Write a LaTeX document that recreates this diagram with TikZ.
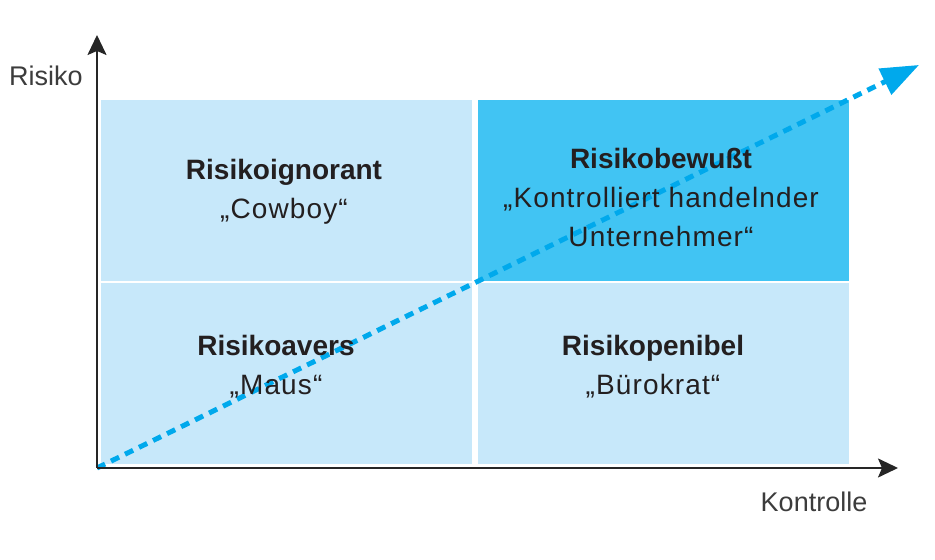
\documentclass[tikz,border=0pt]{standalone}
\usepackage{fontspec}
\setmainfont{Liberation Sans}
\newfontfamily\quotefont[LetterSpace=4]{Liberation Sans}
\usetikzlibrary{arrows.meta,positioning}
\definecolor{quadlight}{HTML}{C7E8FA}
\definecolor{quaddark}{HTML}{41C4F3}
\definecolor{trendblue}{HTML}{00A9EC}
\definecolor{textdark}{HTML}{231F20}
\definecolor{axisgray}{HTML}{3C3C3C}
\tikzset{
  quad/.style={rectangle, inner sep=0pt, minimum width=185.5pt,
               minimum height=90.5pt, fill=quadlight},
  quadhi/.style={quad, fill=quaddark},
  quadtext/.style={align=center, inner sep=0pt, text=textdark,
                   font=\fontsize{14}{19.5}\selectfont},
  axislabel/.style={text=axisgray, font=\fontsize{13.5}{16}\selectfont},
  axis/.style={line width=1pt, draw=black!85,
               -{Stealth[length=10pt, width=9.5pt, inset=2pt]}},
  trend/.style={line width=2.5pt, draw=trendblue, dash pattern=on 4.5pt off 3.3pt,
                -{Triangle[length=19pt, width=14pt, fill=trendblue]}},
}
\newcommand{\quadlabel}[2]{\textbf{#1}\\{\quotefont #2}}

\begin{document}
\begin{tikzpicture}[x=0.5pt, y=0.5pt]
  \useasboundingbox (0,0) rectangle (935,560);
  % quadrants
  \node[quad]   (ignorant) at (286,369.5) {};
  \node[quadhi] (bewusst)  at (663,369.5) {};
  \node[quad]   (avers)    at (286,186)   {};
  \node[quad]   (penibel)  at (663,186)   {};
  % axes and trend
  \coordinate (O)    at (97,92);
  \coordinate (ytip) at (97,525);
  \coordinate (xtip) at (898,92);
  \coordinate (dtip) at (919,495);
  \draw[trend] (O) -- (dtip);
  \draw[axis]  (O) -- (ytip);
  \draw[axis]  (O) -- (xtip);
  \node[axislabel] (ylab) at (46,484) {Risiko};
  \node[axislabel] (xlab) at (814,58) {Kontrolle};
  % labels
  \node[quadtext] (tl) at (284,368)   {\quadlabel{Risikoignorant}{„Cowboy“}};
  \node[quadtext] (tr) at (661,362.5) {\textbf{Risikobewußt}\\{\quotefont „Kontrolliert handelnder}\\{\quotefont Unternehmer“}};
  \node[quadtext] (bl) at (276,193)   {\quadlabel{Risikoavers}{„Maus“}};
  \node[quadtext] (br) at (653,193)   {\quadlabel{Risikopenibel}{„Bürokrat“}};
\end{tikzpicture}
\end{document}
